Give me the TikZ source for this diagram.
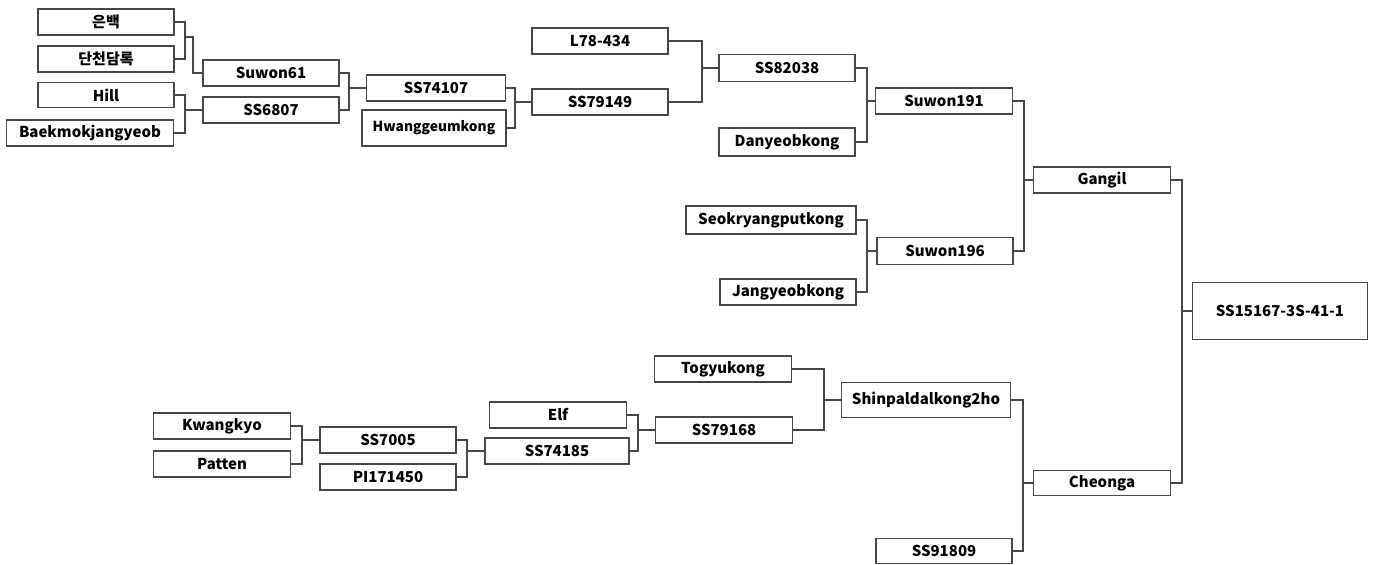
\documentclass[tikz,border=0pt]{standalone}
\usepackage{fontspec}
\setmainfont{Noto Sans CJK KR}
\usepackage{tikz}
\usetikzlibrary{calc}
\definecolor{linegray}{RGB}{70,70,70}
\tikzstyle{entry}=[draw=linegray,rectangle,fill=white,line width=0.6pt,inner sep=0pt,font=\fontsize{7.5}{9}\selectfont\bfseries]
\tikzstyle{link}=[draw=linegray,line width=0.6pt]

\begin{document}
\begin{tikzpicture}[x=0.5pt,y=-0.5pt]

\useasboundingbox (0,0) rectangle (1374,565);

% cultivars
\foreach \pos/\name/\bw/\bh/\txt in {
    {(106,22)/eunbaek/136/26/은백}, {(106,59)/dancheon/136/26/단천담록},
    {(106,95)/hill/136/25/Hill}, {(90,133)/baek/167/26/Baekmokjangyeob},
    {(271,73)/suwon61/136/26/Suwon61}, {(271,110)/ss6807/136/26/SS6807},
    {(436,88)/ss74107/139/26/SS74107},
    {(600,41)/l78/136/26/L78-434}, {(600,102)/ss79149/136/26/SS79149},
    {(787,68)/ss82038/136/27/SS82038}, {(787,142)/danyeob/136/28/Danyeobkong},
    {(944,101)/suwon191/137/26/Suwon191}, {(771,220)/seok/170/28/Seokryangputkong},
    {(788,292)/jangyeob/136/26/Jangyeobkong}, {(945,251)/suwon196/136/27/Suwon196},
    {(1102,180)/gangil/137/26/Gangil}, {(1280,311)/ss15167/175/57/SS15167-3S-41-1},
    {(1102,483)/cheonga/137/25/Cheonga}}
    \node[entry,minimum width=\bw*0.5pt,minimum height=\bh*0.5pt] (\name) at \pos {\txt};

\node[entry,minimum width=72pt,minimum height=18pt,font=\fontsize{6.9}{8}\selectfont\bfseries] (hwang) at (434,128) {Hwanggeumkong};

\foreach \pos/\name/\bw/\bh/\txt in {
    {(723,369)/togyu/137/26/Togyukong}, {(724,430)/ss79168/137/26/SS79168},
    {(926,400)/shinp/169/35/Shinpaldalkong2ho}, {(944,551)/ss91809/136/25/SS91809},
    {(222,426)/kwangkyo/137/26/Kwangkyo}, {(222,464)/patten/137/26/Patten},
    {(388,440)/ss7005/136/26/SS7005}, {(388,477)/pi171450/136/26/PI171450},
    {(557,451)/ss74185/144/26/SS74185}, {(558,415)/elf/137/26/Elf}}
    \node[entry,minimum width=\bw*0.5pt,minimum height=\bh*0.5pt] (\name) at \pos {\txt};

% crossing points
\coordinate (j1) at (185,37);
\coordinate (j2) at (185,110);
\coordinate (j3) at (349,88);
\coordinate (j4) at (515,102);
\coordinate (j5) at (702,68);
\coordinate (j6) at (867,101);
\coordinate (j7) at (867,251);
\coordinate (j8) at (1024,180);
\coordinate (j9) at (1182,311);
\coordinate (j10) at (302,440);
\coordinate (j11) at (467,451);
\coordinate (j12) at (638,430);
\coordinate (j13) at (824,400);
\coordinate (j14) at (1023,483);

% brackets
\foreach \first/\second/\join in {eunbaek/dancheon/j1, hill/baek/j2,
    suwon61/ss6807/j3, ss74107/hwang/j4, l78/ss79149/j5,
    ss82038/danyeob/j6, seok/jangyeob/j7, suwon191/suwon196/j8,
    gangil/cheonga/j9, kwangkyo/patten/j10, ss7005/pi171450/j11,
    elf/ss74185/j12, togyu/ss79168/j13, shinp/ss91809/j14}
    \path[link] (\first.east) -| (\join) |- (\second.east);

\foreach \join/\child in {j2/ss6807, j3/ss74107, j4/ss79149, j5/ss82038, j6/suwon191,
    j7/suwon196, j8/gangil, j9/ss15167, j10/ss7005, j11/ss74185, j12/ss79168,
    j13/shinp, j14/cheonga}
    \path[link] (\join) -- (\join -| \child.west);

\path[link] (j1) -- ++(8,0) |- (suwon61.west);

\end{tikzpicture}
\end{document}
